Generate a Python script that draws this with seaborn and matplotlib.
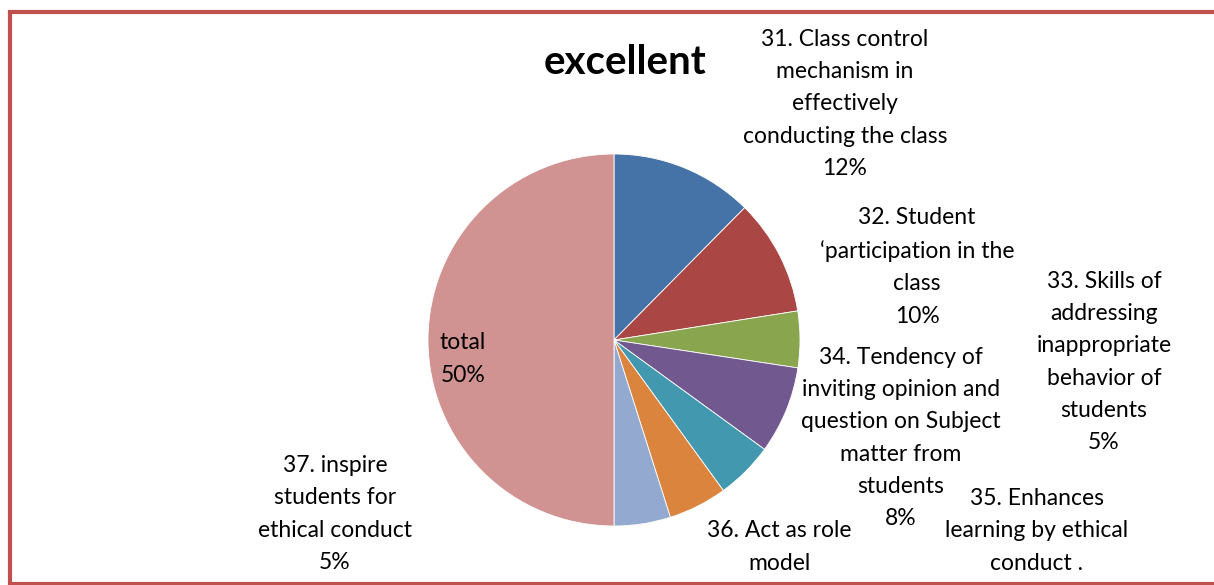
import matplotlib
matplotlib.use("Agg")
import matplotlib.pyplot as plt
import seaborn as sns

# Survey items rated "excellent" and their shares of the total
items = [
    "31. Class control\nmechanism in\neffectively\nconducting the class",
    "32. Student\n\u2018participation in the\nclass",
    "33. Skills of\naddressing\ninappropriate\nbehavior of\nstudents",
    "34. Tendency of\ninviting opinion and\nquestion on Subject\nmatter from\nstudents",
    "35. Enhances\nlearning by ethical\nconduct .",
    "36. Act as role\nmodel",
    "37. inspire\nstudents for\nethical conduct",
    "total",
]
shares = [12.4, 10.1, 4.9, 7.6, 5.0, 5.1, 4.9, 50.0]
colors = ["#4572A7", "#AA4643", "#89A54E", "#71588F",
          "#4198AF", "#DB843D", "#93A9CF", "#D19392"]
title = "excellent"

sns.set_theme(style="white")
plt.rcParams["font.family"] = ["Lato", "DejaVu Sans"]

W, H = 1214, 585
fig = plt.figure(figsize=(W / 100, H / 100), dpi=100)
ax = fig.add_axes([0, 0, 1, 1])


def py(y):
    return H - y


ax.pie(shares, colors=colors, startangle=90, counterclock=False,
       center=(614, py(340)), radius=186,
       wedgeprops=dict(edgecolor="white", linewidth=0.6))
ax.set_xlim(0, W)
ax.set_ylim(0, H)
ax.set_aspect("equal")
ax.axis("off")

# label anchor points (block centres) for each slice
label_pos = [(845, 104), (917, 267), (1104, 362), (901, 438),
             (1037, 547), (779, 563), (335, 514), (463, 359)]

total = sum(shares)
for name, v, (x, y) in zip(items, shares, label_pos):
    pct = round(v / total * 100)
    ax.text(x, py(y), f"{name}\n{pct:.0f}%", ha="center", va="center",
            multialignment="center", fontsize=16.5, linespacing=1.66,
            color="black")

ax.text(625, py(62), title, ha="center", va="center",
        fontsize=29, fontweight="bold", color="black")

# chart frame
frame_kw = dict(color="#C0504D", linewidth=3.0, solid_capstyle="butt")
ax.plot([10, 10], [py(10), py(585)], **frame_kw)
ax.plot([8, W + 5], [py(12), py(12)], **frame_kw)
ax.plot([8, W + 5], [py(584), py(584)], **frame_kw)

fig.savefig("out.png", dpi=100)
